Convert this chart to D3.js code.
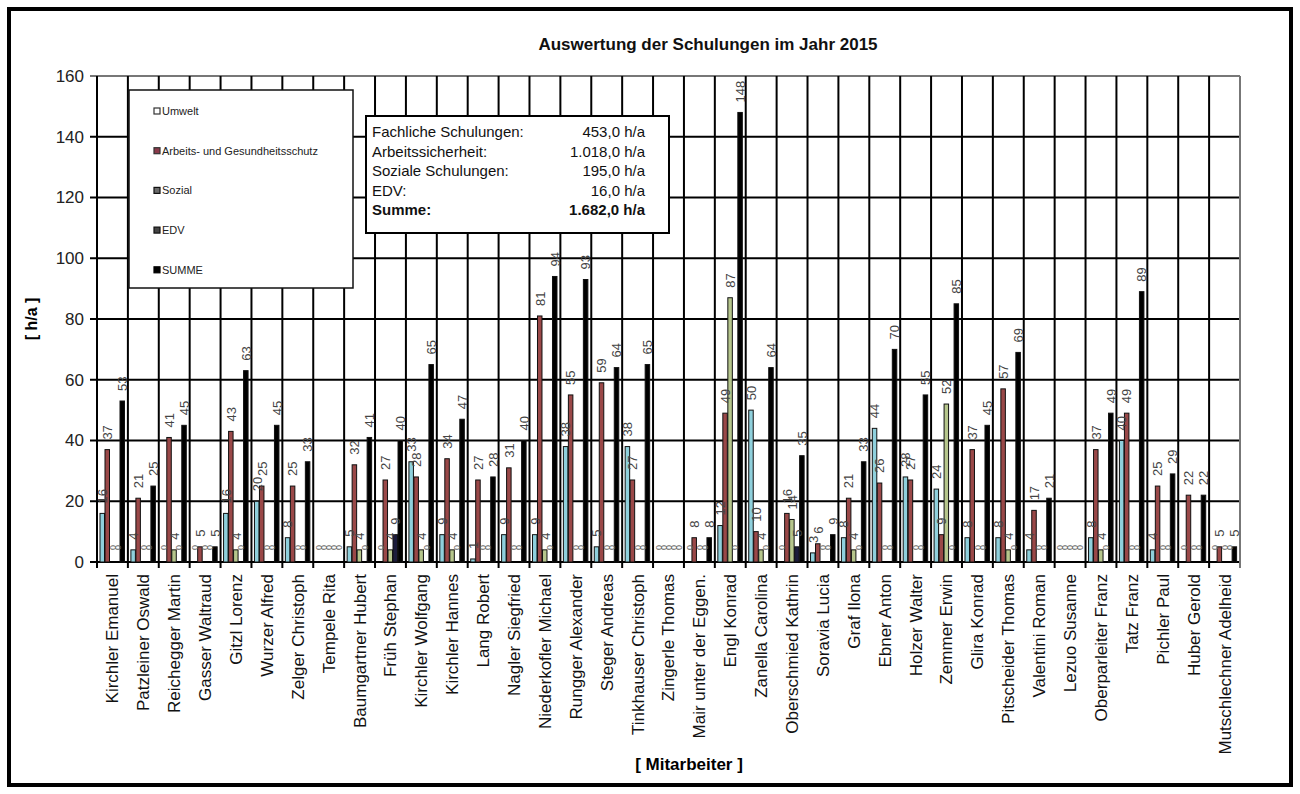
<!DOCTYPE html>
<html><head><meta charset="utf-8">
<script src="https://cdn.jsdelivr.net/npm/d3@7/dist/d3.min.js"></script>
<style>body{margin:0;background:#fff}svg{display:block}text{font-family:Arial,"Liberation Sans",sans-serif}</style>
</head><body><svg id="c" width="1300" height="794"></svg>
<script>
const names = ["Kirchler Emanuel","Patzleiner Oswald","Reichegger Martin","Gasser Waltraud","Gitzl Lorenz","Wurzer Alfred","Zelger Christoph","Tempele Rita","Baumgartner Hubert","Früh Stephan","Kirchler Wolfgang","Kirchler Hannes","Lang Robert","Nagler Siegfried","Niederkofler Michael","Rungger Alexander","Steger Andreas","Tinkhauser Christoph","Zingerle Thomas","Mair unter der Eggen.","Engl Konrad","Zanella Carolina","Oberschmied Kathrin","Soravia Lucia","Graf Ilona","Ebner Anton","Holzer Walter","Zemmer Erwin","Glira Konrad","Pitscheider Thomas","Valentini Roman","Lezuo Susanne","Oberparleiter Franz","Tatz Franz","Pichler Paul","Huber Gerold","Mutschlechner Adelheid"];
const umwelt  = [16,4,0,0,16,20,8,0,5,0,33,9,1,9,9,38,5,38,0,0,12,50,0,3,8,44,28,24,8,8,4,0,8,40,4,0,0];
const arbeits = [37,21,41,5,43,25,25,0,32,27,28,34,27,31,81,55,59,27,0,8,49,10,16,6,21,26,27,9,37,57,17,0,37,49,25,22,5];
const sozial  = [0,0,4,0,4,0,0,0,4,4,4,4,0,0,4,0,0,0,0,0,87,4,14,0,4,0,0,52,0,4,0,0,4,0,0,0,0];
const edv     = [0,0,0,0,0,0,0,0,0,9,0,0,0,0,0,0,0,0,0,0,0,0,5,0,0,0,0,0,0,0,0,0,0,0,0,0,0];
const summe   = [53,25,45,5,63,45,33,0,41,40,65,47,28,40,94,93,64,65,0,8,148,64,35,9,33,70,55,85,45,69,21,0,49,89,29,22,5];
const seriesNames = ["Umwelt","Arbeits- und Gesundheitsschutz","Sozial","EDV","SUMME"];
const yTicks = [0,20,40,60,80,100,120,140,160];
const infoLabels = ["Fachliche Schulungen:","Arbeitssicherheit:","Soziale Schulungen:","EDV:","Summe:"];
const infoValues = ["453,0 h/a","1.018,0 h/a","195,0 h/a","16,0 h/a","1.682,0 h/a"];
const title = "Auswertung der Schulungen im Jahr 2015";

const series = [umwelt, arbeits, sozial, edv, summe];
const fills = ["#8fd0dc","#9a4848","#b6c68c","#1c1c3c","#000"];
const svg = d3.select("#c");
svg.append("rect").attr("x",9).attr("y",9).attr("width",1282).attr("height",776).attr("fill","#fff").attr("stroke","#000").attr("stroke-width",4);

const x = d3.scaleBand().domain(names).range([97,1240]).padding(0);
const sub = d3.scaleBand().domain(d3.range(5)).range([3,28]).padding(0);
const y = d3.scaleLinear().domain([0,160]).range([562,76]);

svg.append("text").attr("x",708).attr("y",50).attr("text-anchor","middle").attr("font-size",17).attr("font-weight","bold").attr("fill","#111").text(title);

// grid
const g = svg.append("g");
g.selectAll("line.h").data(yTicks).join("line").attr("x1",90).attr("x2",1240)
 .attr("y1",d=>y(d)).attr("y2",d=>y(d)).attr("stroke",d=>d===160?"#777":"#000").attr("stroke-width",2);
const bounds = names.map(n=>x(n)).concat([x.range()[1]]);
g.selectAll("line.v").data(bounds).join("line").attr("x1",d=>d).attr("x2",d=>d)
 .attr("y1",76).attr("y2",568).attr("stroke",(d,i)=>i===bounds.length-1?"#777":"#000").attr("stroke-width",2);

// y tick labels
svg.selectAll("text.yt").data(yTicks).join("text").attr("x",84).attr("y",d=>y(d)).attr("dy","0.35em")
 .attr("text-anchor","end").attr("font-size",17).attr("fill","#222").text(d=>d);

// bars
const rows = [];
names.forEach((n,i)=>series.forEach((s,k)=>rows.push({n,k,v:s[i]})));
svg.append("g").selectAll("rect").data(rows.filter(r=>r.v>0)).join("rect")
 .attr("x",r=>x(r.n)+sub(r.k)).attr("width",sub.bandwidth()-0.5)
 .attr("y",r=>y(r.v)).attr("height",r=>y(0)-y(r.v))
 .attr("fill",r=>fills[r.k]).attr("stroke","#111").attr("stroke-width",1);

// data labels
svg.append("g").selectAll("text").data(rows).join("text")
 .attr("transform",r=>`translate(${x(r.n)+sub(r.k)+sub.bandwidth()/2},${y(r.v)-(r.v===0?12:10)}) rotate(-90)`)
 .attr("dy","0.35em").attr("font-size",r=>r.v===0?9:13).attr("fill",r=>r.v===0?"#666":"#444").text(r=>r.v);

// x labels
svg.append("g").selectAll("text").data(names).join("text")
 .attr("transform",n=>`translate(${x(n)+x.bandwidth()/2},574) rotate(-90)`)
 .attr("dy","0.35em").attr("text-anchor","end").attr("font-size",17).attr("fill","#111").text(n=>n);

// axis titles
svg.append("text").attr("transform","translate(37,319) rotate(-90)").attr("text-anchor","middle").attr("font-size",16).attr("font-weight","bold").text("[ h/a ]");
svg.append("text").attr("x",689).attr("y",770).attr("text-anchor","middle").attr("font-size",17).attr("font-weight","bold").text("[ Mitarbeiter ]");

// legend
const lg = svg.append("g");
lg.append("rect").attr("x",129).attr("y",90).attr("width",224).attr("height",198).attr("fill","#fff").attr("stroke","#111").attr("stroke-width",1.5);
const lgStroke = ["#333","#333","#111","#111","#000"];
const lgFill = ["#fff","#8a3a4a","#6a6a6a","#444","#000"];
seriesNames.forEach((s,i)=>{
  const yy = 111 + i*39.7;
  lg.append("rect").attr("x",154).attr("y",yy-3).attr("width",6).attr("height",6).attr("fill",lgFill[i]).attr("stroke",lgStroke[i]).attr("stroke-width",1.2);
  lg.append("text").attr("x",162).attr("y",yy).attr("dy","0.35em").attr("font-size",11).attr("fill","#222").text(s);
});

// info box
const ib = svg.append("g");
ib.append("rect").attr("x",366).attr("y",116).attr("width",303).attr("height",117).attr("fill","#fff").attr("stroke","#000").attr("stroke-width",2);
infoLabels.forEach((t,i)=>{
  const yy = 132 + i*19.5;
  const b = i===4 ? "bold":"normal";
  ib.append("text").attr("x",372).attr("y",yy).attr("dy","0.35em").attr("font-size",15).attr("font-weight",b).attr("fill","#111").text(t);
  ib.append("text").attr("x",645).attr("y",yy).attr("dy","0.35em").attr("text-anchor","end").attr("font-size",15).attr("font-weight",b).attr("fill","#111").text(infoValues[i]);
});
</script></body></html>
